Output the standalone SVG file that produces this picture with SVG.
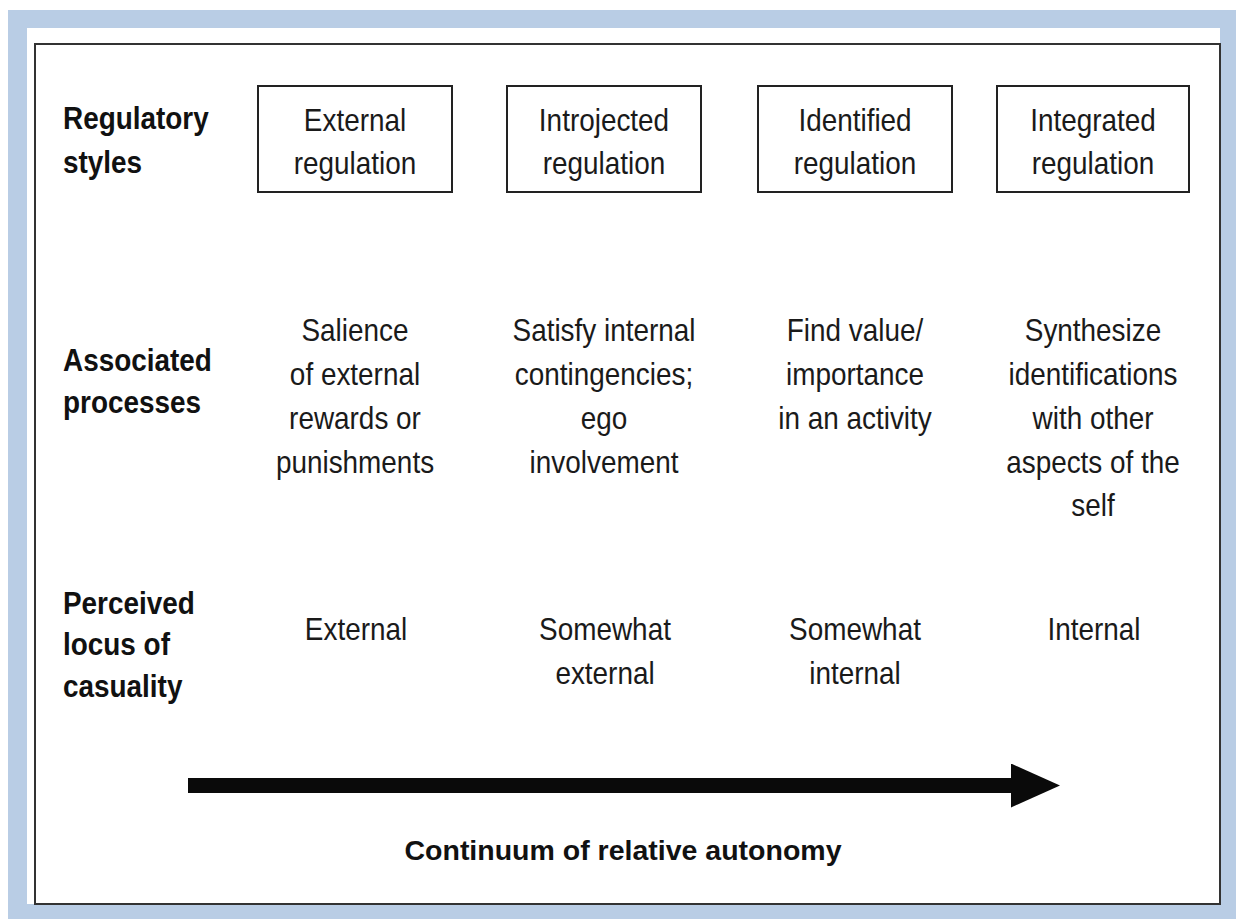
<svg xmlns="http://www.w3.org/2000/svg" width="1239" height="921" viewBox="0 0 1239 921">
  <style>
    .lbl { font-family: "Liberation Sans", Arial, sans-serif; font-weight: bold; font-size: 31px; fill: #111; }
    .txt { font-family: "Liberation Sans", Arial, sans-serif; font-size: 31px; fill: #1a1a1a; text-anchor: middle; }
    .ttl { font-family: "Liberation Sans", Arial, sans-serif; font-weight: bold; font-size: 28.5px; fill: #111; text-anchor: middle; }
    .box { fill: #fff; stroke: #222; stroke-width: 2; }
  </style>
  <defs>
    <marker id="head" markerUnits="userSpaceOnUse" markerWidth="50" markerHeight="44" refX="0" refY="22" orient="auto">
      <path d="M0,0 L49,22 L0,44 Z" fill="#0a0a0a"/>
    </marker>
  </defs>
  <rect width="1239" height="921" fill="#fff"/>
  <!-- frame -->
  <rect x="8" y="10" width="1228" height="909" fill="#b9cde5"/>
  <rect x="27" y="28" width="1193" height="876" fill="#fff"/>
  <rect x="35" y="44" width="1185" height="860" fill="none" stroke="#333" stroke-width="2"/>

  <!-- row labels -->
  <g id="label-regulatory" transform="translate(63 0) scale(0.9 1)">
    <text class="lbl" x="0" y="129">Regulatory</text>
    <text class="lbl" x="0" y="173">styles</text>
  </g>
  <g id="label-associated" transform="translate(63 0) scale(0.9 1)">
    <text class="lbl" x="0" y="371">Associated</text>
    <text class="lbl" x="0" y="413">processes</text>
  </g>
  <g id="label-perceived" transform="translate(63 0) scale(0.9 1)">
    <text class="lbl" x="0" y="614">Perceived</text>
    <text class="lbl" x="0" y="655">locus of</text>
    <text class="lbl" x="0" y="697">casuality</text>
  </g>

  <!-- boxes -->
  <g id="box-external">
    <rect class="box" x="258" y="86" width="194" height="106"/>
    <g transform="translate(355 0) scale(0.9 1)">
      <text class="txt" x="0" y="131">External</text>
      <text class="txt" x="0" y="174">regulation</text>
    </g>
  </g>
  <g id="box-introjected">
    <rect class="box" x="507" y="86" width="194" height="106"/>
    <g transform="translate(604 0) scale(0.9 1)">
      <text class="txt" x="0" y="131">Introjected</text>
      <text class="txt" x="0" y="174">regulation</text>
    </g>
  </g>
  <g id="box-identified">
    <rect class="box" x="758" y="86" width="194" height="106"/>
    <g transform="translate(855 0) scale(0.9 1)">
      <text class="txt" x="0" y="131">Identified</text>
      <text class="txt" x="0" y="174">regulation</text>
    </g>
  </g>
  <g id="box-integrated">
    <rect class="box" x="997" y="86" width="192" height="106"/>
    <g transform="translate(1093 0) scale(0.9 1)">
      <text class="txt" x="0" y="131">Integrated</text>
      <text class="txt" x="0" y="174">regulation</text>
    </g>
  </g>

  <!-- associated processes -->
  <g id="proc-external" transform="translate(355 0) scale(0.9 1)">
    <text class="txt" x="0" y="341">Salience</text>
    <text class="txt" x="0" y="385">of external</text>
    <text class="txt" x="0" y="429">rewards or</text>
    <text class="txt" x="0" y="473">punishments</text>
  </g>
  <g id="proc-introjected" transform="translate(604 0) scale(0.9 1)">
    <text class="txt" x="0" y="341">Satisfy internal</text>
    <text class="txt" x="0" y="385">contingencies;</text>
    <text class="txt" x="0" y="429">ego</text>
    <text class="txt" x="0" y="473">involvement</text>
  </g>
  <g id="proc-identified" transform="translate(855 0) scale(0.9 1)">
    <text class="txt" x="0" y="341">Find value/</text>
    <text class="txt" x="0" y="385">importance</text>
    <text class="txt" x="0" y="429">in an activity</text>
  </g>
  <g id="proc-integrated" transform="translate(1093 0) scale(0.9 1)">
    <text class="txt" x="0" y="341">Synthesize</text>
    <text class="txt" x="0" y="385">identifications</text>
    <text class="txt" x="0" y="429">with other</text>
    <text class="txt" x="0" y="473">aspects of the</text>
    <text class="txt" x="0" y="516">self</text>
  </g>

  <!-- perceived locus -->
  <g id="locus-external" transform="translate(356 0) scale(0.9 1)">
    <text class="txt" x="0" y="640">External</text>
  </g>
  <g id="locus-somewhat-external" transform="translate(605 0) scale(0.9 1)">
    <text class="txt" x="0" y="640">Somewhat</text>
    <text class="txt" x="0" y="684">external</text>
  </g>
  <g id="locus-somewhat-internal" transform="translate(855 0) scale(0.9 1)">
    <text class="txt" x="0" y="640">Somewhat</text>
    <text class="txt" x="0" y="684">internal</text>
  </g>
  <g id="locus-internal" transform="translate(1094 0) scale(0.9 1)">
    <text class="txt" x="0" y="640">Internal</text>
  </g>

  <!-- continuum arrow -->
  <g id="connectors">
    <line x1="188" y1="785.5" x2="1011" y2="785.5" stroke="#0a0a0a" stroke-width="15" marker-end="url(#head)"/>
  </g>
  <g id="continuum-label">
    <text class="ttl" x="623" y="860">Continuum of relative autonomy</text>
  </g>
</svg>
